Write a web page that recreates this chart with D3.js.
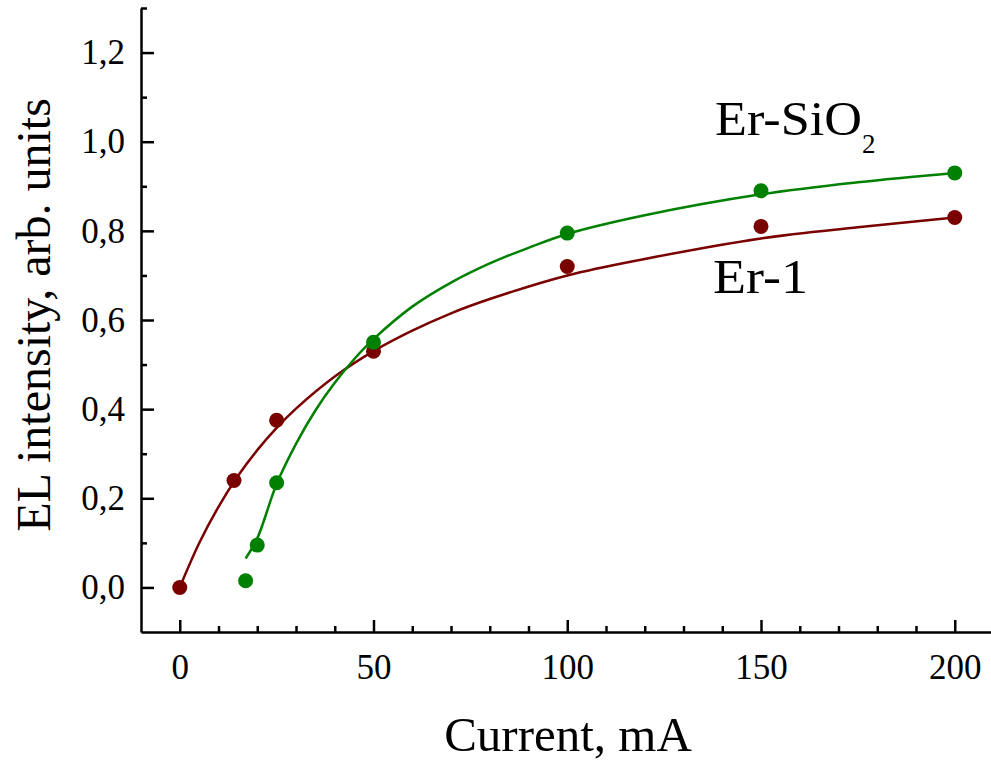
<!DOCTYPE html>
<html>
<head>
<meta charset="utf-8">
<script src="https://cdn.jsdelivr.net/npm/d3@7"></script>
<style>
  html, body { margin: 0; padding: 0; background: #fff; }
  svg { display: block; }
  text { font-family: "Liberation Serif", "Times New Roman", serif; fill: #000; }
</style>
</head>
<body>
<svg id="chart" width="991" height="761"></svg>
<script>
// ---- data ----
const er1X = [0, 14, 25, 50, 100, 150, 200];
const er1Y = [0.0, 0.24, 0.375, 0.53, 0.72, 0.81, 0.83];
const erSiO2X = [17, 20, 25, 50, 100, 150, 200];
const erSiO2Y = [0.015, 0.095, 0.235, 0.55, 0.795, 0.89, 0.93];

// fitted curves
const er1FitX = [0, 5, 10, 15, 20, 25, 30, 40, 50, 60, 70, 80, 100, 120, 150, 175, 200];
const er1FitY = [0, 0.099, 0.181, 0.250, 0.308, 0.358, 0.401, 0.473, 0.530, 0.576, 0.615, 0.647, 0.700, 0.737, 0.783, 0.808, 0.830];
const erSiO2FitX = [17, 20, 25, 30, 35, 40, 45, 50, 60, 70, 80, 90, 100, 120, 150, 175, 200];
const erSiO2FitY = [0.065, 0.11, 0.232, 0.322, 0.397, 0.459, 0.512, 0.557, 0.630, 0.684, 0.727, 0.762, 0.793, 0.835, 0.882, 0.909, 0.930];

const xMajorTicks = [0, 50, 100, 150, 200];
const xMinorTicks = [10, 20, 30, 40, 60, 70, 80, 90, 110, 120, 130, 140, 160, 170, 180, 190];
const yMajorTicks = [0, 0.2, 0.4, 0.6, 0.8, 1.0, 1.2];
const yMinorTicks = [0.1, 0.3, 0.5, 0.7, 0.9, 1.1, 1.3];

const xTitle = "Current, mA";
const yTitle = "EL intensity, arb. units";

// ---- layout ----
const svg = d3.select("#chart");
const x = d3.scaleLinear().domain([-10, 210]).range([141, 993.5]);
const y = d3.scaleLinear().domain([-0.1, 1.3]).range([632, 8]);
const red = "#7a0000";
const green = "#008000";
const fmt = d => d3.format(".1f")(d).replace(".", ",");

// x axis
const xAxis = d3.axisBottom(x).tickValues(xMajorTicks).tickSize(-12).tickSizeOuter(0).tickPadding(22).tickFormat(d3.format("d"));
const gx = svg.append("g").attr("transform", `translate(0,${y(-0.1)})`).call(xAxis);
gx.select(".domain").attr("stroke", "#000").attr("stroke-width", 2.5);
gx.selectAll(".tick line").attr("stroke", "#000").attr("stroke-width", 2.5);
gx.selectAll(".tick text").style("font-size", "35px").style("font-family", "Liberation Serif, serif");
const gxm = svg.append("g").attr("transform", `translate(0,${y(-0.1)})`)
  .call(d3.axisBottom(x).tickValues(xMinorTicks).tickSize(-6).tickSizeOuter(0).tickFormat(""));
gxm.select(".domain").remove();
gxm.selectAll(".tick line").attr("stroke", "#000").attr("stroke-width", 2.5);

// y axis
const yAxis = d3.axisLeft(y).tickValues(yMajorTicks).tickSize(-13).tickSizeOuter(0).tickPadding(16).tickFormat(fmt);
const gy = svg.append("g").attr("transform", `translate(${x(-10)},0)`).call(yAxis);
gy.select(".domain").attr("stroke", "#000").attr("stroke-width", 2.5);
gy.selectAll(".tick line").attr("stroke", "#000").attr("stroke-width", 2.5);
gy.selectAll(".tick text").style("font-size", "35px").style("font-family", "Liberation Serif, serif");
const gym = svg.append("g").attr("transform", `translate(${x(-10)},0)`)
  .call(d3.axisLeft(y).tickValues(yMinorTicks).tickSize(-6).tickSizeOuter(0).tickFormat(""));
gym.select(".domain").remove();
gym.selectAll(".tick line").attr("stroke", "#000").attr("stroke-width", 2.5);

// curves
const line = d3.line().x(d => x(d[0])).y(d => y(d[1])).curve(d3.curveCatmullRom.alpha(0.5));
svg.append("path").datum(er1FitX.map((v, i) => [v, er1FitY[i]]))
  .attr("d", line).attr("fill", "none").attr("stroke", red).attr("stroke-width", 2.5);
svg.append("path").datum(erSiO2FitX.map((v, i) => [v, erSiO2FitY[i]]))
  .attr("d", line).attr("fill", "none").attr("stroke", green).attr("stroke-width", 2.5);

// points
svg.append("g").selectAll("circle").data(er1X.map((v, i) => [v, er1Y[i]])).join("circle")
  .attr("cx", d => x(d[0])).attr("cy", d => y(d[1])).attr("r", 7.5).attr("fill", red);
svg.append("g").selectAll("circle").data(erSiO2X.map((v, i) => [v, erSiO2Y[i]])).join("circle")
  .attr("cx", d => x(d[0])).attr("cy", d => y(d[1])).attr("r", 7.5).attr("fill", green);

// series labels
svg.append("text").attr("x", 715).attr("y", 135).style("font-size", "49px")
  .attr("textLength", 147).attr("lengthAdjust", "spacingAndGlyphs").text("Er-SiO");
svg.append("text").attr("x", 862).attr("y", 153).style("font-size", "27px").text("2");
svg.append("text").attr("x", 713).attr("y", 293).style("font-size", "49px")
  .attr("textLength", 95).attr("lengthAdjust", "spacingAndGlyphs").text("Er-1");

// axis titles
svg.append("text").attr("x", 568).attr("y", 751).attr("text-anchor", "middle").style("font-size", "49px").text(xTitle);
svg.append("text").attr("transform", `translate(50,${315}) rotate(-90)`).attr("text-anchor", "middle").style("font-size", "48px").text(yTitle);
</script>
</body>
</html>
